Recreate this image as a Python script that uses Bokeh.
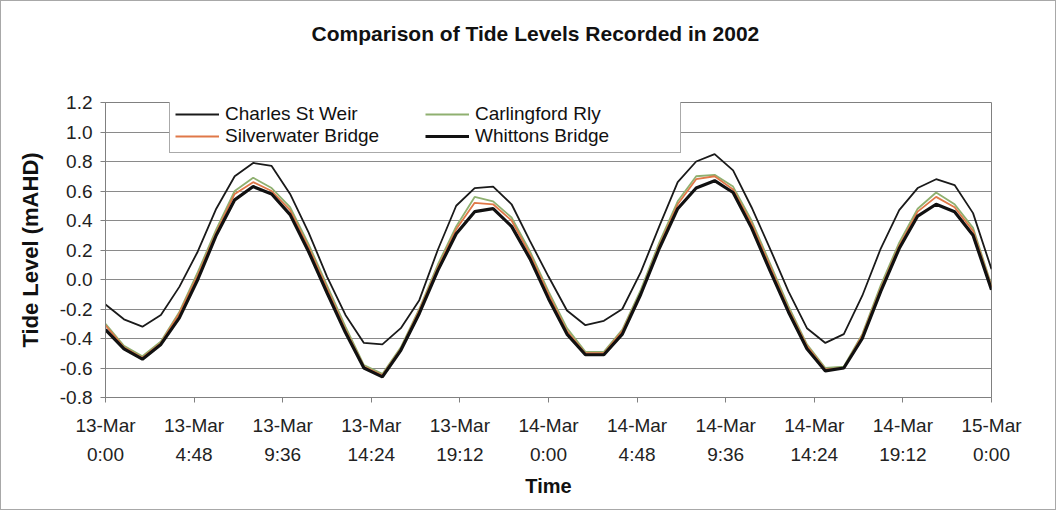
from bokeh.plotting import figure
from bokeh.models import Range1d, FixedTicker, Legend, LegendItem, LinearAxis, Title
from bokeh.embed import file_html
from bokeh.resources import INLINE

# ---- data (hourly readings, hours after 13-Mar 0:00) ----
hours = list(range(49))

charles_st_weir = [-0.17, -0.27, -0.32, -0.24, -0.05, 0.19, 0.48, 0.70, 0.79, 0.77,
                   0.58, 0.32, 0.02, -0.24, -0.43, -0.44, -0.33, -0.14, 0.20, 0.50,
                   0.62, 0.63, 0.51, 0.26, 0.02, -0.21, -0.31, -0.28, -0.20, 0.05,
                   0.36, 0.66, 0.80, 0.85, 0.74, 0.49, 0.21, -0.08, -0.33, -0.43,
                   -0.37, -0.11, 0.21, 0.47, 0.62, 0.68, 0.64, 0.45, 0.07]

carlingford_rly = [-0.30, -0.45, -0.52, -0.42, -0.22, 0.05, 0.34, 0.60, 0.69, 0.62,
                   0.49, 0.24, -0.04, -0.32, -0.58, -0.64, -0.46, -0.20, 0.10, 0.36,
                   0.56, 0.53, 0.42, 0.19, -0.08, -0.33, -0.49, -0.49, -0.34, -0.07,
                   0.25, 0.53, 0.70, 0.71, 0.63, 0.40, 0.11, -0.18, -0.44, -0.60,
                   -0.59, -0.37, -0.04, 0.25, 0.48, 0.59, 0.51, 0.35, -0.04]

silverwater_bridge = [-0.31, -0.46, -0.53, -0.43, -0.23, 0.03, 0.32, 0.58, 0.66, 0.60,
                      0.47, 0.22, -0.06, -0.34, -0.59, -0.65, -0.47, -0.21, 0.08, 0.34,
                      0.52, 0.51, 0.40, 0.17, -0.10, -0.35, -0.50, -0.50, -0.35, -0.09,
                      0.23, 0.51, 0.68, 0.70, 0.61, 0.38, 0.09, -0.20, -0.45, -0.61,
                      -0.60, -0.38, -0.06, 0.23, 0.46, 0.56, 0.49, 0.33, -0.05]

whittons_bridge = [-0.34, -0.47, -0.54, -0.44, -0.26, 0.00, 0.30, 0.54, 0.63, 0.58,
                   0.44, 0.19, -0.09, -0.36, -0.60, -0.66, -0.48, -0.23, 0.06, 0.31,
                   0.46, 0.48, 0.36, 0.14, -0.13, -0.37, -0.51, -0.51, -0.37, -0.10,
                   0.21, 0.48, 0.62, 0.67, 0.59, 0.35, 0.06, -0.22, -0.47, -0.62,
                   -0.60, -0.40, -0.08, 0.21, 0.43, 0.51, 0.46, 0.30, -0.07]

x_tick_pos = [0, 4.8, 9.6, 14.4, 19.2, 24, 28.8, 33.6, 38.4, 43.2, 48]
x_tick_days = ["13-Mar", "13-Mar", "13-Mar", "13-Mar", "13-Mar", "14-Mar",
               "14-Mar", "14-Mar", "14-Mar", "14-Mar", "15-Mar"]
x_tick_times = ["0:00", "4:48", "9:36", "14:24", "19:12", "0:00",
                "4:48", "9:36", "14:24", "19:12", "0:00"]
y_ticks = [-0.8, -0.6, -0.4, -0.2, 0.0, 0.2, 0.4, 0.6, 0.8, 1.0, 1.2]

FONT = "Liberation Sans"
AXIS_GREY = "#808080"

p = figure(width=1056, height=510, output_backend="svg", toolbar_location=None,
           x_range=Range1d(0, 48), y_range=Range1d(-0.8, 1.2),
           min_border_left=104, min_border_right=66, min_border_top=101,
           min_border_bottom=114)
p.background_fill_color = "white"
p.border_fill_color = "white"
p.outline_line_color = AXIS_GREY
p.styles = {"border": "1px solid #a8a8a8"}

# main title (outermost) plus an invisible spacer between it and the frame
p.title.text = "Comparison of Tide Levels Recorded in 2002"
p.title.align = "left"
p.title.offset = 206
p.title.text_font = FONT
p.title.text_font_size = "21px"
p.title.text_font_style = "bold"
p.title.text_color = "#111111"
p.title.standoff = 10
p.add_layout(Title(text=" ", text_font_size="1px", standoff=50), "above")

# grid
p.xgrid.visible = False
p.ygrid.ticker = FixedTicker(ticks=y_ticks)
p.ygrid.grid_line_color = "#8a8a8a"
p.ygrid.grid_line_width = 1

# y axis
ya = p.yaxis[0]
ya.ticker = FixedTicker(ticks=y_ticks)
ya.major_label_overrides = {t: "%.1f" % t for t in y_ticks}
ya.axis_label = "Tide Level (mAHD)"
ya.major_label_standoff = 8

# x axis: day labels on first row
xa = p.xaxis[0]
xa.ticker = FixedTicker(ticks=x_tick_pos)
xa.major_label_overrides = {t: d for t, d in zip(x_tick_pos, x_tick_days)}
xa.major_label_standoff = 12

for ax in (xa, ya):
    ax.axis_line_color = AXIS_GREY
    ax.major_tick_line_color = AXIS_GREY
    ax.major_tick_out = 5
    ax.major_tick_in = 0
    ax.minor_tick_line_color = None
    ax.major_label_text_font = FONT
    ax.major_label_text_font_size = "19px"
    ax.major_label_text_color = "#222222"
    ax.axis_label_text_font = FONT
    ax.axis_label_text_font_style = "bold"
    ax.axis_label_text_color = "#111111"
ya.axis_label_text_font_size = "22px"
ya.axis_label_standoff = 14

# x axis: time labels on second row
xt = LinearAxis(ticker=FixedTicker(ticks=x_tick_pos),
                major_label_overrides={t: s for t, s in zip(x_tick_pos, x_tick_times)},
                axis_line_color=None, major_tick_line_color=None,
                minor_tick_line_color=None, major_tick_out=0, major_tick_in=0,
                major_label_standoff=5,
                major_label_text_font=FONT, major_label_text_font_size="19px",
                major_label_text_color="#222222",
                axis_label="Time", axis_label_standoff=7,
                axis_label_text_font=FONT, axis_label_text_font_size="20px",
                axis_label_text_font_style="bold", axis_label_text_color="#111111")
p.add_layout(xt, "below")

r1 = p.line(hours, charles_st_weir, line_color="#1a1a1a", line_width=1.8)
r2 = p.line(hours, carlingford_rly, line_color="#8fb070", line_width=1.8)
r3 = p.line(hours, silverwater_bridge, line_color="#e07848", line_width=1.8)
r4 = p.line(hours, whittons_bridge, line_color="#111111", line_width=3.2)

legend = Legend(items=[
    LegendItem(label="Charles St Weir", renderers=[r1]),
    LegendItem(label="Silverwater Bridge", renderers=[r3]),
    LegendItem(label="Carlingford Rly", renderers=[r2]),
    LegendItem(label="Whittons Bridge", renderers=[r4]),
], ncols=2, location=(64, 244))
legend.label_text_font = FONT
legend.label_text_font_size = "19px"
legend.label_text_color = "#111111"
legend.label_width = 200
legend.label_height = 18
legend.label_standoff = 6
legend.glyph_width = 44
legend.glyph_height = 16
legend.spacing = 0
legend.padding = 5
legend.margin = 0
legend.border_line_color = "#555555"
legend.border_line_width = 1
legend.background_fill_alpha = 1.0
p.add_layout(legend, "center")

open("out.html", "w").write(file_html(p, INLINE))
